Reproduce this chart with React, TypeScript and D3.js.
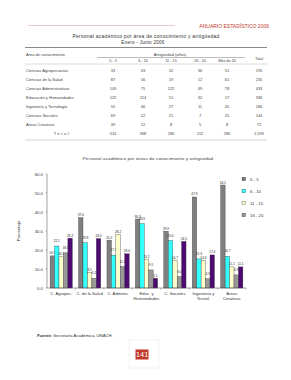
import * as d3 from 'd3'

// table (counts)
const tableRows = [
  'Ciencias Agropecuarias',
  'Ciencias de la Salud',
  'Ciencias Administrativas',
  'Educación y Humanidades',
  'Ingeniería y Tecnología',
  'Ciencias Sociales',
  'Áreas Creativas',
]
const col0a5 = [33, 87, 109, 122, 55, 69, 39]
const col6a10 = [43, 56, 75, 114, 46, 22, 12]
const col11a15 = [32, 19, 122, 51, 27, 21, 8]
const col16a20 = [36, 12, 49, 32, 11, 7, 5]
const colMas20 = [51, 61, 78, 17, 45, 25, 8]
const colTotal = [195, 235, 433, 336, 184, 144, 72]
const totalRow = ['514', '368', '280', '152', '285', '1,599']

// chart (percent of each area)
const areas = ['C. Agropec.', 'C. de la Salud', 'C. Adminis.', 'Educ. y Humanidades', 'C. Sociales', 'Ingeniería y Tecnol.', 'Áreas Creativas']
const areaLines = [['C. Agropec.'], ['C. de la Salud'], ['C. Adminis.'], ['Educ. y', 'Humanidades'], ['C. Sociales'], ['Ingeniería y', 'Tecnol.'], ['Áreas', 'Creativas']]
const series = ['0 - 5', '6 - 10', '11 - 15', '16 - 20', 'Más de 20']
const pct0a5 = [16.9, 37.0, 25.2, 36.3, 29.9, 47.9, 54.2]
const pct6a10 = [22.1, 23.8, 17.3, 33.9, 25.0, 15.3, 16.7]
const pct11a15 = [16.4, 8.1, 28.2, 15.2, 14.7, 14.6, 11.1]
const pct16a20 = [18.5, 5.1, 11.3, 9.5, 6.0, 4.9, 6.9]
const pctMas20 = [26.2, 26.0, 18.0, 5.1, 24.5, 17.4, 11.1]
const yTicks = [0, 10, 20, 30, 40, 50, 60]

const colors = ['#808080', '#33ffff', '#ffffcc', '#999999', '#4d0a73']
const font = 'Liberation Sans, Arial, sans-serif'

export default function App() {
  const tableCols = [col0a5, col6a10, col11a15, col16a20, colMas20, colTotal]
  const colX = [113, 143, 171, 200, 227, 259]
  const rowY = d3.scaleLinear().domain([0, 7]).range([71, 134])

  const pcts = [pct0a5, pct6a10, pct11a15, pct16a20, pctMas20]
  const x = d3.scaleBand().domain(areas).range([47, 246])
  const inner = d3.scaleBand().domain(series).range([0, x.bandwidth()]).paddingOuter(0.7)
  const y = d3.scaleLinear().domain([0, 60]).range([288, 174])
  const fmt = d3.format('.1f')
  const legendY = d3.scaleLinear().domain([0, 3]).range([179, 215])

  return (
    <svg width={291} height={380} style={{ position: 'absolute', left: 0, top: 0, background: '#fff' }} fontFamily={font}>
      {/* page header */}
      <line x1={28} x2={175} y1={25.5} y2={25.5} stroke="#d9a5a5" strokeWidth={0.6} />
      <text x={269} y={27.5} fontSize={5} fill="#c0392b" textAnchor="end">ANUARIO ESTADÍSTICO 2006</text>

      {/* table */}
      <text x={146} y={37.5} fontSize={5} fill="#333" textAnchor="middle" letterSpacing={0.25}>Personal académico por área de conocimiento y antigüedad</text>
      <text x={143} y={43.5} fontSize={4.6} fill="#333" textAnchor="middle" letterSpacing={0.25}>Enero - Junio 2006</text>
      <line x1={25} x2={267} y1={47.5} y2={47.5} stroke="#888" strokeWidth={1.2} />
      <text x={26} y={56} fontSize={4} fill="#444">Área de conocimiento</text>
      <text x={170} y={55.5} fontSize={4} fill="#444" textAnchor="middle">Antigüedad  (años)</text>
      <line x1={97} x2={245} y1={57.5} y2={57.5} stroke="#777" strokeWidth={0.5} />
      {series.map((s, i) => (
        <text key={s} x={colX[i]} y={62} fontSize={3.8} fill="#444" textAnchor="middle">{s}</text>
      ))}
      <text x={colX[5]} y={60} fontSize={3.8} fill="#444" textAnchor="middle">Total</text>
      <line x1={25} x2={267} y1={64} y2={64} stroke="#aaa" strokeWidth={0.4} />
      {tableRows.map((r, i) => (
        <g key={r}>
          <text x={26} y={rowY(i) + 1.4} fontSize={4} fill="#444">{r}</text>
          {tableCols.map((c, j) => (
            <text key={j} x={colX[j]} y={rowY(i) + 1.4} fontSize={4} fill="#444" textAnchor="middle">{c[i]}</text>
          ))}
        </g>
      ))}
      <text x={62} y={rowY(7) + 1.4} fontSize={4} fill="#444" textAnchor="middle" letterSpacing={1.6}>Total</text>
      {totalRow.map((t, j) => (
        <text key={j} x={colX[j]} y={rowY(7) + 1.4} fontSize={4} fill="#444" textAnchor="middle">{t}</text>
      ))}
      <line x1={25} x2={267} y1={140} y2={140} stroke="#aaa" strokeWidth={0.5} />

      {/* chart */}
      <text x={148} y={160} fontSize={4.4} fill="#333" textAnchor="middle" letterSpacing={0.2}>Personal académico por áreas de conocimiento y antigüedad</text>
      <line x1={x.range()[0]} x2={x.range()[0]} y1={y(60)} y2={y(0)} stroke="#444" strokeWidth={0.5} />
      {yTicks.map((t) => (
        <g key={t}>
          <line x1={x.range()[0] - 1.5} x2={x.range()[0]} y1={y(t)} y2={y(t)} stroke="#444" strokeWidth={0.4} />
          <text x={x.range()[0] - 4} y={y(t) + 1.5} fontSize={4.3} fill="#333" textAnchor="end">{fmt(t)}</text>
        </g>
      ))}
      <text transform={`translate(20,${(y(0) + y(60)) / 2}) rotate(-90)`} fontSize={4.3} fill="#333" textAnchor="middle">Porcentaje</text>

      {areas.map((a, i) => (
        <g key={a} transform={`translate(${x(a)},0)`}>
          {pcts.map((p, j) => (
            <g key={j}>
              <rect x={inner(series[j])} y={y(p[i])} width={inner.bandwidth()} height={y(0) - y(p[i])}
                fill={colors[j]} stroke="#333" strokeWidth={0.35} />
              <text x={(inner(series[j]) as number) + inner.bandwidth() / 2} y={y(p[i]) - 1.5 - (j % 2) * 2.5} fontSize={3.2} fill="#222" textAnchor="middle">{fmt(p[i])}</text>
            </g>
          ))}
          <line x1={x.bandwidth()} x2={x.bandwidth()} y1={y(0)} y2={y(0) + 1.5} stroke="#444" strokeWidth={0.4} />
          {areaLines[i].map((l, k) => (
            <text key={k} x={x.bandwidth() / 2} y={y(0) + 6.5 + k * 5.5} fontSize={4.2} fill="#333" textAnchor="middle">{l}</text>
          ))}
        </g>
      ))}
      <line x1={x.range()[0]} x2={x.range()[1]} y1={y(0)} y2={y(0)} stroke="#444" strokeWidth={0.5} />

      {series.slice(0, 4).map((s, i) => (
        <g key={s}>
          <rect x={242} y={legendY(i) - 1.8} width={3.6} height={3.6} fill={colors[i]} stroke="#333" strokeWidth={0.35} />
          <text x={250} y={legendY(i) + 1.5} fontSize={4.3} fill="#333">{s}</text>
        </g>
      ))}

      {/* footer */}
      <text x={37} y={337} fontSize={4.2} fill="#333">
        <tspan fontWeight="bold" fontStyle="italic">Fuente:</tspan> Secretaría Académica, UNACH.
      </text>
      <rect x={129} y={340} width={30} height={28} fill="none" stroke="#f3e6e6" strokeWidth={0.6} />
      <rect x={135.5} y={349.5} width={13} height={10} fill="#c0392b" />
      <text x={142} y={357.1} fontSize={7} fill="#fff" textAnchor="middle" fontFamily="DejaVu Sans Mono, monospace">141</text>
    </svg>
  )
}
